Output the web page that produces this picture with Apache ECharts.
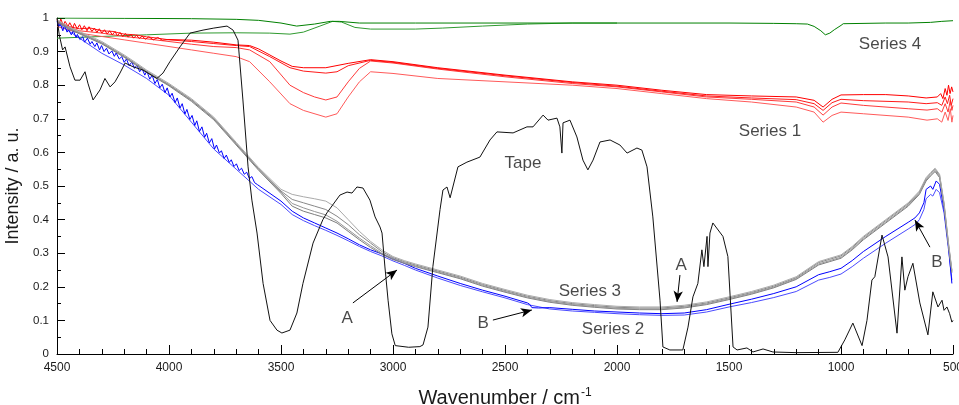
<!DOCTYPE html>
<html><head><meta charset="utf-8">
<script src="https://cdn.jsdelivr.net/npm/echarts@6/dist/echarts.min.js"></script>
<style>html,body{margin:0;padding:0;background:#fff}#c{width:959px;height:405px}</style>
</head><body><div id="c"></div>
<script>
// ---------- data (wavenumber cm^-1, intensity a.u.) ----------
const xTickValues = [4500, 4000, 3500, 3000, 2500, 2000, 1500, 1000, 500];

const tape = [[4500,1.0],[4490,0.95],[4475,0.905],[4464,0.914],[4442,0.855],[4420,0.815],[4397,0.815],[4375,0.84],[4362,0.806],[4339,0.756],[4308,0.786],[4286,0.82],[4263,0.795],[4241,0.81],[4219,0.836],[4196,0.866],[4161,0.855],[4116,0.845],[4054,0.82],[4027,0.836],[3996,0.87],[3951,0.914],[3906,0.955],[3848,0.964],[3800,0.97],[3741,0.976],[3714,0.964],[3692,0.934],[3670,0.756],[3647,0.557],[3630,0.458],[3607,0.36],[3580,0.21],[3549,0.10],[3518,0.071],[3496,0.0625],[3460,0.071],[3429,0.122],[3402,0.21],[3357,0.33],[3313,0.40],[3295,0.42],[3237,0.473],[3205,0.482],[3183,0.479],[3161,0.497],[3134,0.494],[3103,0.458],[3080,0.408],[3058,0.378],[3049,0.36],[3036,0.259],[3022,0.16],[3005,0.06],[2990,0.025],[2982,0.021],[2930,0.02],[2880,0.022],[2866,0.027],[2844,0.08],[2822,0.26],[2790,0.43],[2777,0.488],[2759,0.497],[2745,0.465],[2737,0.46],[2710,0.557],[2670,0.571],[2612,0.586],[2567,0.637],[2536,0.661],[2464,0.658],[2402,0.676],[2375,0.676],[2330,0.711],[2308,0.696],[2268,0.702],[2255,0.676],[2246,0.598],[2241,0.688],[2210,0.696],[2179,0.646],[2152,0.577],[2130,0.548],[2107,0.577],[2076,0.631],[2031,0.637],[1987,0.622],[1955,0.598],[1911,0.613],[1889,0.607],[1866,0.557],[1840,0.408],[1808,0.16],[1795,0.021],[1764,0.012],[1706,0.012],[1683,0.08],[1661,0.17],[1639,0.21],[1621,0.31],[1612,0.26],[1598,0.35],[1594,0.26],[1585,0.36],[1572,0.39],[1527,0.35],[1505,0.29],[1482,0.021],[1464,0.012],[1420,0.018],[1393,0.006],[1348,0.015],[1304,0.006],[1200,0.004],[1014,0.005],[983,0.042],[947,0.092],[906,0.025],[884,0.10],[862,0.22],[849,0.23],[817,0.354],[790,0.289],[750,0.062],[728,0.289],[715,0.19],[701,0.23],[679,0.27],[648,0.152],[612,0.057],[590,0.185],[567,0.14],[549,0.16],[540,0.13],[527,0.14],[515,0.12],[505,0.095],[500,0.1]];

const series1a = [[4500,0.995],[4491,0.982],[4483,0.997],[4472,0.978],[4464,0.99],[4451,0.975],[4443,0.986],[4430,0.97],[4422,0.984],[4410,0.968],[4399,0.98],[4389,0.965],[4378,0.977],[4366,0.962],[4357,0.974],[4344,0.96],[4333,0.97],[4322,0.957],[4311,0.968],[4300,0.955],[4288,0.965],[4276,0.952],[4265,0.962],[4253,0.95],[4241,0.96],[4230,0.947],[4219,0.957],[4207,0.945],[4195,0.954],[4182,0.943],[4170,0.951],[4158,0.94],[4145,0.949],[4133,0.939],[4120,0.946],[4105,0.937],[4090,0.944],[4070,0.935],[4050,0.942],[4030,0.934],[4000,0.936],[3900,0.934],[3800,0.928],[3700,0.92],[3640,0.918],[3600,0.908],[3500,0.872],[3450,0.856],[3400,0.852],[3300,0.852],[3200,0.865],[3100,0.876],[3000,0.87],[2800,0.852],[2500,0.83],[2200,0.81],[2000,0.80],[1800,0.785],[1600,0.772],[1400,0.768],[1200,0.765],[1120,0.755],[1080,0.735],[1040,0.758],[1000,0.771],[900,0.772],[800,0.772],[700,0.768],[620,0.762],[570,0.765],[555,0.775],[545,0.76],[535,0.79],[527,0.77],[520,0.8],[513,0.775],[506,0.795],[500,0.78]];
const series1b = [[4500,0.99],[4450,0.975],[4400,0.968],[4350,0.97],[4300,0.962],[4250,0.96],[4200,0.952],[4150,0.95],[4100,0.944],[4050,0.94],[4000,0.935],[3900,0.93],[3800,0.924],[3700,0.918],[3640,0.915],[3550,0.885],[3460,0.852],[3400,0.842],[3300,0.836],[3250,0.84],[3200,0.858],[3100,0.874],[3000,0.868],[2800,0.85],[2500,0.828],[2200,0.808],[2000,0.797],[1800,0.782],[1600,0.768],[1400,0.762],[1200,0.757],[1120,0.745],[1080,0.725],[1040,0.748],[1000,0.758],[900,0.754],[700,0.75],[620,0.745],[570,0.748],[550,0.74],[535,0.765],[525,0.745],[515,0.77],[508,0.74],[500,0.76]];
const series1c = [[4500,0.985],[4400,0.962],[4300,0.955],[4200,0.945],[4100,0.938],[4000,0.93],[3900,0.922],[3800,0.915],[3700,0.912],[3640,0.905],[3550,0.87],[3460,0.80],[3400,0.778],[3350,0.765],[3300,0.756],[3250,0.765],[3200,0.81],[3150,0.85],[3100,0.872],[3000,0.866],[2800,0.848],[2500,0.825],[2200,0.805],[2000,0.795],[1800,0.78],[1600,0.765],[1400,0.758],[1200,0.75],[1120,0.735],[1080,0.711],[1040,0.735],[1000,0.747],[900,0.74],[700,0.73],[616,0.726],[570,0.73],[550,0.72],[535,0.745],[522,0.72],[512,0.755],[505,0.725],[500,0.74]];
const series1d = [[4500,0.975],[4400,0.955],[4300,0.945],[4200,0.935],[4100,0.925],[4000,0.915],[3900,0.905],[3800,0.895],[3700,0.885],[3640,0.87],[3550,0.81],[3460,0.745],[3400,0.725],[3300,0.705],[3250,0.715],[3200,0.765],[3150,0.81],[3100,0.84],[3000,0.835],[2800,0.82],[2500,0.81],[2200,0.8],[2000,0.79],[1800,0.775],[1600,0.76],[1400,0.75],[1200,0.735],[1120,0.72],[1080,0.69],[1040,0.71],[1000,0.72],[900,0.715],[700,0.705],[616,0.696],[570,0.70],[550,0.69],[535,0.72],[522,0.695],[512,0.73],[505,0.69],[500,0.71]];

const series2a = [[4500,0.99],[4492,0.975],[4485,0.982],[4474,0.962],[4466,0.978],[4455,0.958],[4448,0.965],[4436,0.95],[4427,0.962],[4415,0.942],[4409,0.951],[4398,0.936],[4385,0.944],[4377,0.928],[4364,0.94],[4352,0.922],[4344,0.93],[4331,0.915],[4322,0.926],[4310,0.905],[4301,0.918],[4290,0.9],[4279,0.91],[4268,0.893],[4255,0.902],[4244,0.886],[4236,0.896],[4222,0.878],[4211,0.885],[4200,0.868],[4190,0.878],[4178,0.858],[4166,0.869],[4154,0.85],[4143,0.86],[4131,0.84],[4120,0.849],[4108,0.83],[4099,0.842],[4086,0.818],[4075,0.83],[4063,0.805],[4052,0.817],[4041,0.792],[4030,0.803],[4018,0.778],[4008,0.792],[3996,0.765],[3986,0.776],[3973,0.748],[3963,0.762],[3951,0.732],[3941,0.745],[3929,0.714],[3920,0.728],[3907,0.698],[3897,0.71],[3885,0.68],[3876,0.694],[3864,0.662],[3853,0.676],[3841,0.645],[3832,0.657],[3820,0.628],[3809,0.641],[3797,0.61],[3788,0.622],[3775,0.598],[3766,0.605],[3754,0.582],[3744,0.592],[3731,0.57],[3722,0.578],[3710,0.558],[3699,0.566],[3687,0.546],[3676,0.553],[3664,0.535],[3653,0.541],[3641,0.522],[3630,0.528],[3618,0.51],[3605,0.504],[3600,0.502],[3500,0.455],[3450,0.425],[3400,0.405],[3350,0.39],[3300,0.375],[3250,0.36],[3200,0.343],[3150,0.325],[3100,0.31],[3050,0.298],[3000,0.283],[2950,0.27],[2900,0.255],[2800,0.232],[2700,0.21],[2600,0.19],[2500,0.172],[2400,0.152],[2390,0.148],[2380,0.138],[2350,0.137],[2300,0.138],[2200,0.133],[2100,0.128],[2000,0.125],[1900,0.122],[1800,0.12],[1700,0.122],[1600,0.132],[1500,0.148],[1400,0.163],[1300,0.18],[1200,0.2],[1100,0.236],[1050,0.245],[1000,0.255],[950,0.278],[900,0.305],[800,0.35],[700,0.392],[670,0.405],[650,0.42],[630,0.45],[620,0.49],[600,0.5],[590,0.49],[575,0.515],[560,0.505],[540,0.43],[520,0.32],[505,0.21]];
const series2b = [[4500,0.985],[4400,0.94],[4300,0.895],[4200,0.86],[4100,0.82],[4000,0.77],[3900,0.69],[3800,0.61],[3700,0.55],[3600,0.49],[3500,0.445],[3450,0.415],[3400,0.397],[3350,0.382],[3300,0.368],[3250,0.353],[3200,0.337],[3150,0.32],[3100,0.305],[3050,0.292],[3000,0.277],[2950,0.264],[2900,0.25],[2800,0.226],[2700,0.204],[2600,0.185],[2500,0.167],[2400,0.147],[2300,0.134],[2200,0.128],[2100,0.124],[2000,0.12],[1900,0.117],[1800,0.115],[1700,0.116],[1600,0.125],[1500,0.14],[1400,0.153],[1300,0.168],[1200,0.186],[1100,0.22],[1050,0.228],[1000,0.238],[950,0.26],[900,0.285],[800,0.33],[700,0.372],[670,0.385],[660,0.392],[650,0.40],[630,0.43],[620,0.462],[600,0.475],[590,0.47],[575,0.49],[560,0.48],[540,0.42],[520,0.31],[505,0.22]];

const grayWn = [4500,4450,4400,4350,4300,4250,4200,4150,4100,4050,4000,3900,3800,3700,3600,3500,3450,3400,3350,3300,3250,3200,3150,3100,3050,3000,2950,2900,2800,2700,2600,2500,2400,2300,2200,2100,2000,1900,1800,1700,1600,1500,1400,1300,1200,1100,1050,1000,950,900,800,700,650,620,600,580,560,540,520,505];
const series3a = [0.995,0.975,0.96,0.945,0.93,0.91,0.89,0.868,0.845,0.825,0.805,0.76,0.705,0.63,0.555,0.49,0.475,0.468,0.462,0.455,0.435,0.40,0.365,0.335,0.31,0.29,0.278,0.268,0.25,0.232,0.21,0.192,0.175,0.162,0.153,0.147,0.142,0.14,0.14,0.145,0.155,0.17,0.186,0.205,0.23,0.275,0.285,0.295,0.32,0.35,0.40,0.45,0.485,0.525,0.54,0.553,0.535,0.45,0.33,0.25];
const series3b = [0.99,0.97,0.955,0.94,0.925,0.905,0.885,0.863,0.84,0.82,0.8,0.755,0.70,0.625,0.55,0.485,0.46,0.45,0.44,0.43,0.41,0.385,0.355,0.33,0.305,0.287,0.275,0.265,0.247,0.229,0.207,0.189,0.172,0.159,0.15,0.144,0.139,0.137,0.137,0.142,0.152,0.167,0.183,0.202,0.227,0.272,0.282,0.292,0.317,0.347,0.397,0.447,0.482,0.522,0.537,0.55,0.532,0.447,0.327,0.248];
const series3c = [0.992,0.972,0.957,0.942,0.927,0.907,0.887,0.865,0.842,0.822,0.802,0.757,0.702,0.627,0.551,0.482,0.448,0.435,0.424,0.414,0.395,0.37,0.345,0.322,0.30,0.284,0.272,0.262,0.244,0.226,0.204,0.186,0.169,0.156,0.147,0.141,0.136,0.134,0.134,0.139,0.149,0.164,0.18,0.199,0.224,0.268,0.278,0.288,0.313,0.343,0.393,0.443,0.478,0.518,0.533,0.546,0.528,0.443,0.324,0.245];
const series3d = [0.988,0.968,0.953,0.938,0.923,0.903,0.883,0.861,0.838,0.818,0.798,0.752,0.697,0.622,0.547,0.478,0.44,0.425,0.415,0.405,0.39,0.365,0.34,0.317,0.297,0.281,0.27,0.26,0.242,0.224,0.202,0.184,0.167,0.154,0.145,0.139,0.134,0.132,0.132,0.137,0.147,0.162,0.178,0.197,0.222,0.265,0.275,0.285,0.31,0.34,0.39,0.44,0.475,0.515,0.53,0.543,0.525,0.44,0.32,0.242];

const series4a = [[4500,1.0],[4200,0.999],[3900,0.998],[3700,0.996],[3600,0.993],[3500,0.985],[3430,0.976],[3350,0.982],[3280,0.99],[3240,0.99],[3150,0.985],[2900,0.985],[2500,0.985],[2000,0.985],[1500,0.985],[1300,0.984],[1200,0.983],[1150,0.982],[1120,0.975],[1090,0.962],[1070,0.95],[1050,0.955],[1030,0.965],[1000,0.978],[990,0.983],[800,0.985],[700,0.985],[600,0.987],[550,0.99],[500,0.992]];
const series4b = [[4500,0.94],[4300,0.945],[4100,0.95],[3900,0.955],[3700,0.956],[3550,0.955],[3460,0.952],[3400,0.958],[3330,0.975],[3270,0.99],[3230,0.988],[3170,0.972],[3100,0.967],[2900,0.967],[2780,0.97],[2600,0.976],[2400,0.982],[2200,0.985],[2000,0.985]];

// annotations (text and arrows, in data coordinates)
const noteTexts = ['Tape','Series 1','Series 2','Series 3','Series 4','A','B','A','B'];
const noteWn    = [2420, 1317, 2018, 2121, 781, 3205, 2598, 1714, 572];
const noteVal   = [0.568, 0.664, 0.074, 0.1875, 0.923, 0.107, 0.092, 0.265, 0.274];
const arrowFrom = [[3179,0.152],[2554,0.101],[1719,0.235],[603,0.318]];
const arrowTo   = [[2982,0.25],[2380,0.131],[1732,0.155],[670,0.399]];

// ---------- chart ----------
const FONT = '"Liberation Sans", Arial, Helvetica, sans-serif';
const chart = echarts.init(document.getElementById('c'), null, {renderer: 'canvas'});

function line(data, color, z) {
  return {type: 'line', data: data, showSymbol: false, symbol: 'none', silent: true,
    lineStyle: {color: color, width: 1}, itemStyle: {color: color}, z: z || 2,
    animation: false, clip: true};
}
function zipGray(vals) { return grayWn.map((w, i) => [w, vals[i]]); }

const series = [
  line(series4b, '#2f9a2f'), line(series4a, '#008000'),
  line(series1d, '#ff5a5a'), line(series1c, '#ff3a3a'), line(series1b, '#ff1a1a'), line(series1a, '#ff0000'),
  line(series2b, '#4a4aff'), line(series2a, '#0000ff'),
  line(zipGray(series3d), '#7c7c7c'), line(zipGray(series3c), '#969696'), line(zipGray(series3b), '#888888'), line(zipGray(series3a), '#aaaaaa'),
  line(tape, '#111111', 3),
  {
    type: 'scatter', silent: true, animation: false, z: 5,
    symbolSize: 1, itemStyle: {color: 'rgba(0,0,0,0)'},
    data: noteTexts.map((t, i) => ({name: t, value: [noteWn[i], noteVal[i]]})),
    label: {show: true, position: 'inside', formatter: '{b}', color: '#1a1a1a', fontSize: 17, fontFamily: FONT},
    markLine: {
      silent: true, animation: false, symbol: ['none', 'arrow'], symbolSize: [7, 11],
      lineStyle: {color: '#000', width: 1, type: 'solid'}, label: {show: false},
      data: arrowFrom.map((f, i) => [{coord: f}, {coord: arrowTo[i]}])
    }
  }
];

chart.setOption({
  animation: false,
  backgroundColor: '#fff',
  grid: {left: 57, right: 6, top: 18, bottom: 51, containLabel: false, outerBoundsMode: 'none'},
  xAxis: {
    type: 'value', min: 500, max: 4500, interval: 500, inverse: true,
    name: 'Wavenumber / cm{sup|-1}', nameLocation: 'middle', nameGap: 33,
    nameTextStyle: {color: '#1a1a1a', fontSize: 20, fontFamily: FONT,
      rich: {sup: {fontSize: 12, fontFamily: FONT, color: '#1a1a1a', padding: [0, 0, 11, 1]}}},
    axisLine: {show: true, onZero: false, lineStyle: {color: '#000', width: 1}},
    axisTick: {show: true, inside: true, length: 9, lineStyle: {color: '#000'}},
    minorTick: {show: true, splitNumber: 5, length: 5, lineStyle: {color: '#000'}},
    axisLabel: {color: '#1a1a1a', fontSize: 12, fontFamily: FONT, margin: 8,
      formatter: v => xTickValues.indexOf(v) >= 0 ? String(v) : ''},
    splitLine: {show: false}
  },
  yAxis: {
    type: 'value', min: 0, max: 1, interval: 0.1,
    name: 'Intensity / a. u.', nameLocation: 'middle', nameGap: 29, nameRotate: 90,
    nameTextStyle: {color: '#1a1a1a', fontSize: 18, fontFamily: FONT},
    axisLine: {show: true, onZero: false, lineStyle: {color: '#000', width: 1}},
    axisTick: {show: true, inside: true, length: 8, lineStyle: {color: '#000'}},
    minorTick: {show: true, splitNumber: 2, length: 4, lineStyle: {color: '#000'}},
    axisLabel: {color: '#1a1a1a', fontSize: 11.5, fontFamily: FONT, margin: 8},
    splitLine: {show: false}
  },
  series: series
});
</script>
</body></html>
